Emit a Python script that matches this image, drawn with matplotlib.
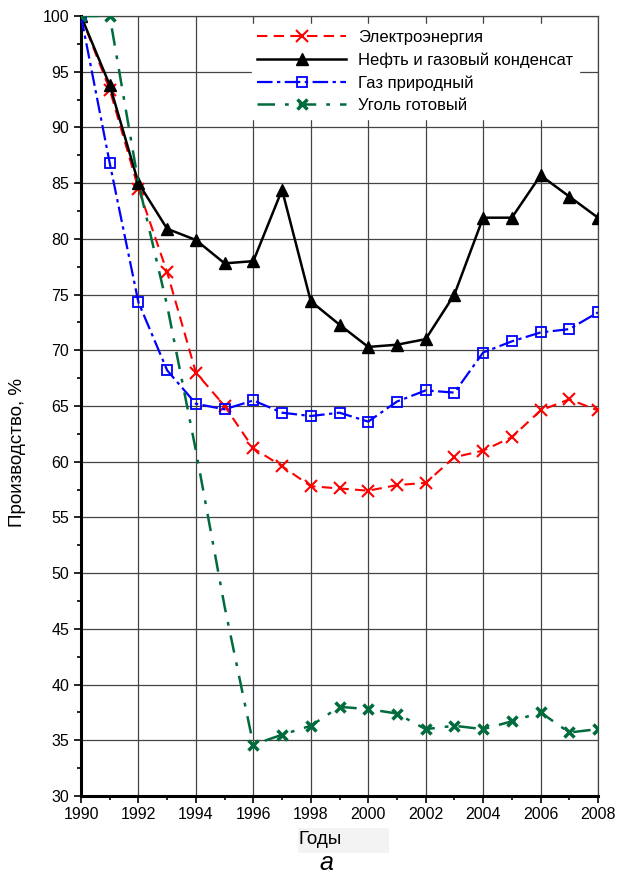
import numpy as np
import matplotlib
matplotlib.use("Agg")
from matplotlib import pyplot as plt
from matplotlib.patches import Rectangle
from matplotlib.ticker import MultipleLocator

plt.rcParams['font.family'] = ['Liberation Sans', 'DejaVu Sans']

# %%
# Data
years = list(range(1990, 2009))

electricity = [100, 93.4, 84.5, 77.0, 68.0, 65.0, 61.2, 59.6, 57.8, 57.6,
               57.4, 57.9, 58.1, 60.4, 61.0, 62.2, 64.6, 65.6, 64.6]
oil = [100, 93.8, 85.0, 80.9, 79.9, 77.8, 78.0, 84.4, 74.4, 72.3,
       70.3, 70.5, 71.0, 75.0, 81.9, 81.9, 85.7, 83.8, 81.9]
gas = [100, 86.8, 74.3, 68.2, 65.2, 64.7, 65.5, 64.4, 64.1, 64.4,
       63.6, 65.4, 66.4, 66.2, 69.8, 70.8, 71.6, 71.9, 73.4]
coal = [100, 100, 85.0, 74.0, 61.0, 47.0, 34.6, 35.5, 36.3, 38.0,
        37.8, 37.4, 36.0, 36.3, 36.0, 36.7, 37.5, 35.7, 36.0]
# years where the coal curve has no visible marker
coal_no_marker = [1992, 1993, 1994, 1995]

labels = ["Электроэнергия", "Нефть и газовый конденсат",
          "Газ природный", "Уголь готовый"]

# %%
fig = plt.figure(figsize=(6.17, 8.77), dpi=100)
ax = fig.add_axes([81 / 617, 81 / 877, 517 / 617, 780 / 877])

ax.plot(years, electricity, color="#ff0000", lw=1.5, ls=(0, (5, 3)),
        marker="x", ms=8, mew=1.5, label=labels[0], zorder=3)
ax.plot(years, oil, color="black", lw=1.8, ls="-",
        marker="^", ms=8, label=labels[1], zorder=4)
ax.plot(years, gas, color="#0000ff", lw=1.6, ls=(0, (7, 2, 1.5, 2)),
        marker="s", ms=7.5, mfc="none", mew=1.3, label=labels[2], zorder=5)
coal_marks = [i for i, y in enumerate(years) if y not in coal_no_marker]
ax.plot(years, coal, color="#006b3c", lw=1.8, ls=(0, (7, 4, 1.5, 4)),
        marker="x", ms=7, mew=2.5, markevery=coal_marks,
        label=labels[3], zorder=6)

ax.set_xlim(1990, 2008)
ax.set_ylim(30, 100)
ax.xaxis.set_major_locator(MultipleLocator(2))
ax.xaxis.set_minor_locator(MultipleLocator(1))
ax.yaxis.set_major_locator(MultipleLocator(5))
ax.yaxis.set_minor_locator(MultipleLocator(2.5))

ax.grid(True, which="major", color="#444444", lw=0.9)
ax.tick_params(which="major", direction="out", length=5, width=1.2,
               labelsize=11.5, color="black")
ax.tick_params(which="minor", direction="out", length=3, width=1.2,
               color="black")
ax.tick_params(axis="x", pad=3)

for side in ["left", "bottom"]:
    ax.spines[side].set_linewidth(2.2)
    ax.spines[side].set_color("black")
for side in ["right", "top"]:
    ax.spines[side].set_linewidth(0.9)
    ax.spines[side].set_color("#444444")

ax.set_ylabel("Производство, %", fontsize=13.5)
ax.yaxis.set_label_coords(-0.106, 0.44)

leg = ax.legend(loc="upper left", bbox_to_anchor=(0.33, 0.99), fontsize=12,
                frameon=True, fancybox=False, framealpha=1, edgecolor="white",
                handlelength=5.3, handletextpad=0.75, labelspacing=0.45,
                borderpad=0.35, borderaxespad=0)
leg.set_zorder(10)

# light box behind the x axis title
fig.patches.append(Rectangle((298 / 617, 1 - 853 / 877), 91 / 617, 25 / 877,
                             transform=fig.transFigure, facecolor="#f3f3f3",
                             edgecolor="none", zorder=0))
fig.text(298 / 617, 1 - 840 / 877, "Годы", fontsize=13.5, va="center", ha="left")
fig.text(326 / 617, 1 - 863 / 877, "а", fontsize=18, style="italic",
         va="center", ha="center")

fig.savefig("out.png", dpi=100, facecolor="white")
